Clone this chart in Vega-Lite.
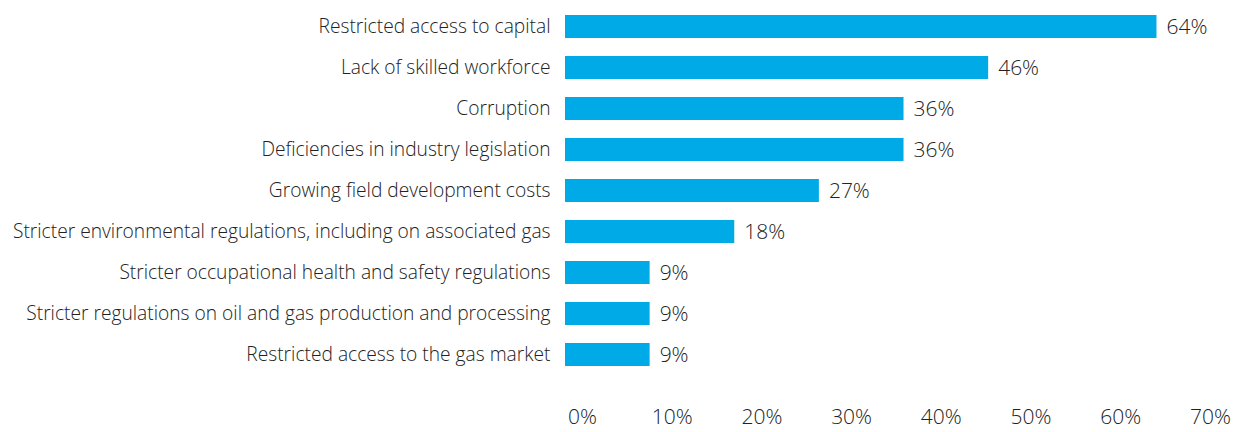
{
  "$schema": "https://vega.github.io/schema/vega-lite/v6.json",
  "autosize": {"type": "none"},
  "padding": {"left": 565, "top": 6, "right": 18, "bottom": 57},
  "width": 651,
  "height": 369,
  "background": "white",
  "config": {
    "view": {"stroke": null},
    "font": "Open Sans",
    "axis": {"labelFont": "Open Sans", "labelColor": "#222222", "labelFontWeight": 300}
  },
  "data": {
    "values": [
      {"factor": "Restricted access to capital", "share": 0.636},
      {"factor": "Lack of skilled workforce", "share": 0.455},
      {"factor": "Corruption", "share": 0.364},
      {"factor": "Deficiencies in industry legislation", "share": 0.364},
      {"factor": "Growing field development costs", "share": 0.273},
      {"factor": "Stricter environmental regulations, including on associated gas", "share": 0.182},
      {"factor": "Stricter occupational health and safety regulations", "share": 0.091},
      {"factor": "Stricter regulations on oil and gas production and processing", "share": 0.091},
      {"factor": "Restricted access to the gas market", "share": 0.091}
    ]
  },
  "encoding": {
    "y": {
      "field": "factor",
      "type": "nominal",
      "sort": null,
      "scale": {"paddingInner": 0.44, "paddingOuter": 0.22},
      "axis": {
        "title": null,
        "domain": false,
        "ticks": false,
        "labelFontSize": 19.2,
        "labelPadding": 15,
        "labelLimit": 600
      }
    },
    "x": {
      "field": "share",
      "type": "quantitative",
      "scale": {"domain": [0, 0.7], "nice": false},
      "axis": {
        "title": null,
        "format": ".0%",
        "values": [0, 0.1, 0.2, 0.3, 0.4, 0.5, 0.6, 0.7],
        "domain": false,
        "ticks": false,
        "grid": false,
        "labelFontSize": 21,
        "labelPadding": 31,
        "labelOffset": {"expr": "17 - datum.value * 33"},
        "labelFlush": false
      }
    }
  },
  "layer": [
    {"mark": {"type": "bar", "color": "#00aae6"}},
    {
      "mark": {"type": "text", "align": "left", "dx": 10, "dy": 1, "fontSize": 21, "fontWeight": 300, "color": "#222222", "font": "Open Sans"},
      "encoding": {"text": {"field": "share", "type": "quantitative", "format": ".0%"}}
    }
  ]
}
